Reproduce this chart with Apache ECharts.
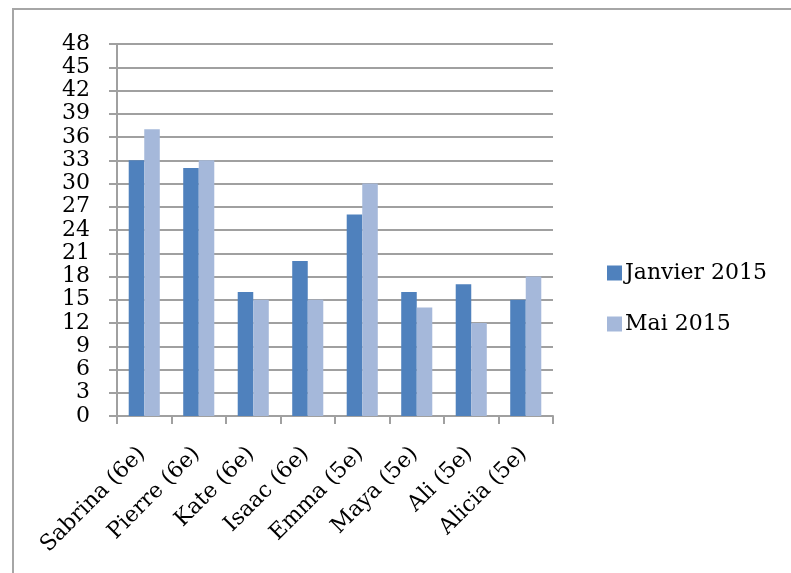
<!DOCTYPE html>
<html><head><meta charset="utf-8">
<script src="https://cdn.jsdelivr.net/npm/echarts@6/dist/echarts.min.js"></script>
<style>html,body{margin:0;padding:0;background:#fff}#c{width:791px;height:573px}</style>
</head><body><div id="c"></div>
<script>
const categories = ["Sabrina (6e)","Pierre (6e)","Kate (6e)","Isaac (6e)","Emma (5e)","Maya (5e)","Ali (5e)","Alicia (5e)"];
const janvier2015 = [33,32,16,20,26,16,17,15];
const mai2015 = [37,33,15,15,30,14,12,18];
const seriesNames = ["Janvier 2015","Mai 2015"];

const FONT = "DejaVu Serif";
const chart = echarts.init(document.getElementById('c'), null, {renderer:'canvas'});
chart.setOption({
  animation:false,
  backgroundColor:'#fff',
  textStyle:{fontFamily:FONT},
  graphic:[{type:'rect',shape:{x:13,y:9,width:800,height:600},style:{fill:'none',stroke:'#A6A6A6',lineWidth:2},silent:true}],
  grid:{left:117,right:238,top:44,bottom:157,containLabel:false},
  legend:{orient:'vertical',left:602,top:257,itemWidth:15,itemHeight:15,itemGap:29,icon:'rect',
    textStyle:{fontFamily:FONT,fontSize:22,color:'#000',padding:[0,0,0,-2]},data:seriesNames},
  xAxis:{type:'category',data:categories,
    axisLine:{lineStyle:{color:'#A0A0A0',width:2}},
    axisTick:{show:true,length:8,lineStyle:{color:'#A0A0A0',width:2},alignWithLabel:false},
    axisLabel:{rotate:45,interval:0,fontFamily:FONT,fontSize:22,color:'#000',margin:10,
      verticalAlign:'top',padding:[5,19,0,0]}},
  yAxis:{type:'value',min:0,max:48,interval:3,
    axisLine:{show:true,lineStyle:{color:'#A0A0A0',width:2}},
    axisTick:{show:true,length:8,lineStyle:{color:'#A0A0A0',width:2}},
    splitLine:{lineStyle:{color:'#A0A0A0',width:2}},
    axisLabel:{fontFamily:FONT,fontSize:22,color:'#000',margin:27}},
  series:[
    {name:seriesNames[0],type:'bar',data:janvier2015,itemStyle:{color:'#4F81BD'},barGap:'0%',barCategoryGap:'43%'},
    {name:seriesNames[1],type:'bar',data:mai2015,itemStyle:{color:'#A5B8DA'},barGap:'0%',barCategoryGap:'43%'}
  ]
});
</script></body></html>
